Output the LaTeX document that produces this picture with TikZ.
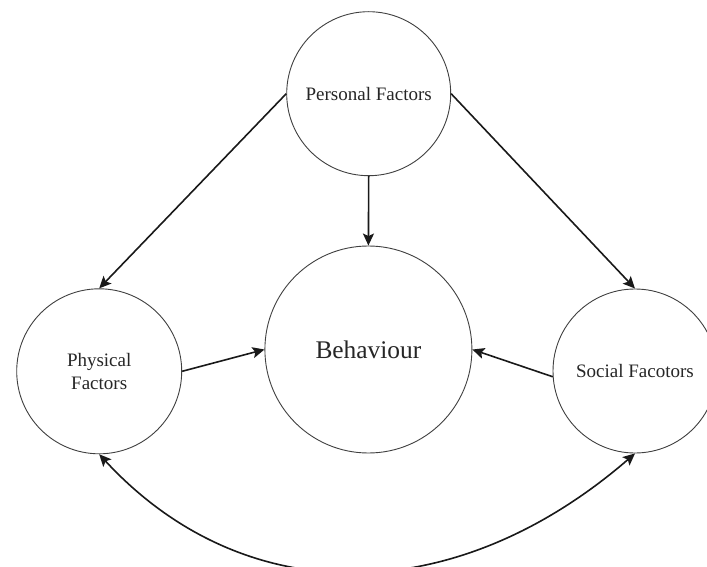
\documentclass[tikz,border=0pt]{standalone}
\usepackage{fontspec}
\setmainfont{Liberation Serif}
\usetikzlibrary{arrows.meta}
\begin{document}
\begin{tikzpicture}[x=1pt,y=-1pt,
  factor/.style={circle,draw=black!75,line width=0.9pt,inner sep=0pt,text=black!85,
    font=\fontsize{19}{23}\selectfont,align=center},
  arr/.style={line width=1.6pt,draw=black!90,-{Stealth[length=12pt,width=11pt,inset=2.5pt]}},
  darr/.style={line width=1.6pt,draw=black!90,{Stealth[length=12pt,width=11pt,inset=2.5pt]}-{Stealth[length=12pt,width=11pt,inset=2.5pt]}}]
\useasboundingbox (0,0) rectangle (707,567);
\clip (0,0) rectangle (707,567);
\fill[white] (0,0) rectangle (707,567);
\node[factor,minimum size=164pt] (P) at (368.7,93.7) {Personal Factors};
\node[factor,minimum size=207pt,font=\fontsize{25.4}{30}\selectfont] (B) at (368.4,349.5) {Behaviour};
\node[factor,minimum size=165pt] (Ph) at (99.2,371.3) {Physical\\Factors};
\node[factor,minimum size=164pt] (S) at (635,371) {Social Facotors};
\draw[arr] (P.west) -- (Ph.north);
\draw[arr] (P.east) -- (S.north);
\draw[arr] (P.south) -- (B.north);
\draw[arr] (Ph.east) -- (B.west);
\draw[arr] (S.184) -- (B.east);
\draw[darr] (Ph.south) .. controls (244,611) and (454,610) .. (S.south);
\end{tikzpicture}
\end{document}
